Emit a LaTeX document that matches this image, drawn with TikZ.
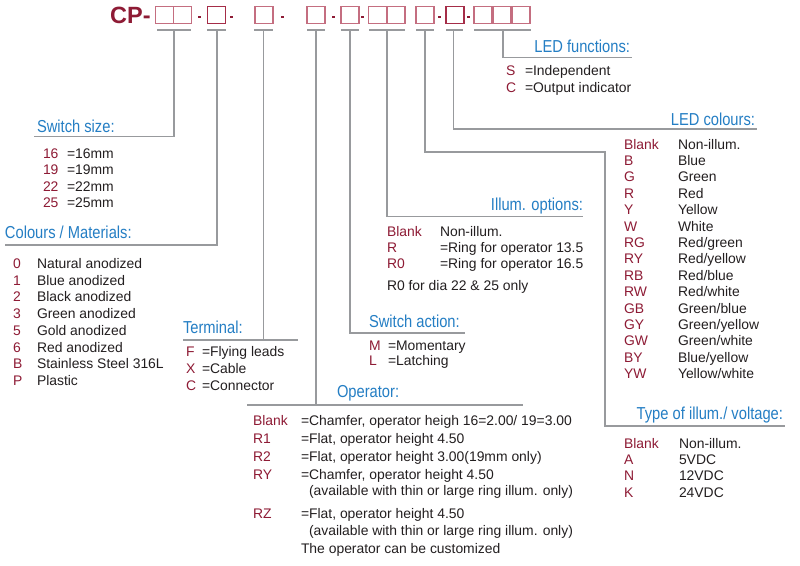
\documentclass[tikz,border=0pt]{standalone}
\usepackage{fontspec}
\setmainfont{Liberation Sans}
\newfontfamily\headfont[FakeStretch=0.85]{Liberation Sans}
\definecolor{keyred}{RGB}{142,27,53}
\definecolor{headblue}{RGB}{36,126,196}
\definecolor{txt}{RGB}{35,31,32}
\definecolor{linegray}{RGB}{152,154,157}
\definecolor{boxlight}{RGB}{196,110,128}
\definecolor{boxdark}{RGB}{165,45,72}
\begin{document}
\begin{tikzpicture}[x=1pt,y=-1pt,
  body/.style={font=\fontsize{13.9}{16}\selectfont, text=txt, anchor=base west, inner sep=0pt, outer sep=0pt},
  key/.style={body, text=keyred},
  head/.style={font=\headfont\fontsize{17.3}{20}\selectfont, text=headblue, anchor=base west, inner sep=0pt, outer sep=0pt},
  headr/.style={head, anchor=base east},
  conn/.style={draw=linegray, line width=1.5pt},
  bar/.style={draw=linegray, line width=2pt},
  digit/.style={draw=boxlight, line width=1.3pt, minimum width=18pt, minimum height=17pt, inner sep=0pt, outer sep=0pt, anchor=north west},
  digitd/.style={digit, draw=boxdark},
  dashmark/.style={fill=keyred, minimum width=3pt, minimum height=2pt, inner sep=0pt, outer sep=0pt}
]
\useasboundingbox (0,0) rectangle (800,565);
\fill[white] (0,0) rectangle (800,565);

% ---- code header ----
\node[anchor=base west, inner sep=0pt, text=keyred, font=\bfseries\fontsize{23.5}{26}\selectfont] (cp) at (110,23) {CP-};
\node[digit]  (d1a) at (155.5,6.5) {};
\node[digit]  (d1b) at (173.5,6.5) {};
\node[digitd] (d2)  at (207.5,6.5) {};
\node[digit]  (d3)  at (255,6.5) {};
\node[digit]  (d4)  at (307,6.5) {};
\node[digit]  (d5)  at (341,6.5) {};
\node[digit]  (d6a) at (368.5,6.5) {};
\node[digit]  (d6b) at (387,6.5) {};
\node[digit]  (d7)  at (416,6.5) {};
\node[digitd] (d8)  at (446,6.5) {};
\node[digit]  (d9a) at (474,6.5) {};
\node[digit]  (d9b) at (493,6.5) {};
\node[digit]  (d9c) at (512,6.5) {};
\node[dashmark] (m1) at (199,16.5) {};
\node[dashmark] (m2) at (231,16.5) {};
\node[dashmark] (m3) at (282,16.5) {};
\node[dashmark] (m4) at (333,16.5) {};
\node[dashmark] (m5) at (362.5,16.5) {};
\node[dashmark] (m6) at (439.5,16.5) {};
\node[dashmark] (m7) at (468,16.5) {};

% ---- bars under digits ----
\draw[bar] (157,30) -- (191,30);
\draw[bar] (207,30) -- (226,30);
\draw[bar] (254,30) -- (273,30);
\draw[bar] (307,30) -- (325,30);
\draw[bar] (341,30) -- (359,30);
\draw[bar] (369,30) -- (405,30);
\draw[bar] (416,30) -- (434,30);
\draw[bar] (446,30) -- (463,30);
\draw[bar] (474,30) -- (531,30);
\coordinate (v1) at (174,30);
\coordinate (v2) at (217,30);
\coordinate (v3) at (263.5,30);
\coordinate (v4) at (316,30);
\coordinate (v5) at (350,30);
\coordinate (v6) at (387,30);
\coordinate (v7) at (425,30);
\coordinate (v8) at (453.5,30);
\coordinate (v9) at (503,30);

% ---- underline end points ----
\coordinate (ss) at (34,136.5);
\coordinate (cm) at (5,245);
\coordinate (tl) at (183,340);
\coordinate (tr) at (298,340);
\coordinate (ol) at (247,405);
\coordinate (or) at (523,405);
\coordinate (sa) at (465,333);
\coordinate (io) at (583,216.5);
\coordinate (tk) at (605,152);
\coordinate (ty) at (785,426);
\coordinate (lc) at (757,129);
\coordinate (lf) at (632,57.5);

% ---- connectors ----
\draw[conn] (v1) |- (ss);
\draw[conn] (v2) |- (cm);
\draw[conn] (tl) -- (tr);
\draw[conn] (v3) -- (v3 |- tl);
\draw[conn] (ol) -- (or);
\draw[conn] (v4) -- (v4 |- ol);
\draw[conn] (v5) |- (sa);
\draw[conn] (v6) |- (io);
\draw[conn] (v7) |- (tk) |- (ty);
\draw[conn] (v8) |- (lc);
\draw[conn] (v9) |- (lf);

% ---- headings ----
\node[head]  (h-ss) at (37,132) {Switch size:};
\node[head]  (h-cm) at (5,238.5) {Colours / Materials:};
\node[head]  (h-te) at (183,333.5) {Terminal:};
\node[head]  (h-op) at (337,397.5) {Operator:};
\node[head]  (h-sa) at (369,327) {Switch action:};
\node[headr] (h-io) at (583,210) {Illum. options:};
\node[headr] (h-lc) at (755,125) {LED colours:};
\node[headr] (h-lf) at (630,52) {LED functions:};
\node[headr] (h-ty) at (783,419.5) {Type of illum./ voltage:};

% ---- LED functions ----
\node[key]  (lf1k) at (506,75.5) {S};
\node[body] (lf1v) at (525,75.5) {=Independent};
\node[key]  (lf2k) at (506,92) {C};
\node[body] (lf2v) at (525,92) {=Output indicator};

% ---- Switch size ----
\node[key]  (ss1k) at (43,158.3) {16};
\node[body] (ss1v) at (67,158.3) {=16mm};
\node[key]  (ss2k) at (43,174.7) {19};
\node[body] (ss2v) at (67,174.7) {=19mm};
\node[key]  (ss3k) at (43,191.1) {22};
\node[body] (ss3v) at (67,191.1) {=22mm};
\node[key]  (ss4k) at (43,207.5) {25};
\node[body] (ss4v) at (67,207.5) {=25mm};

% ---- Colours / Materials ----
\node[key]  (cm1k) at (13,268.3) {0};
\node[body] (cm1v) at (37,268.3) {Natural anodized};
\node[key]  (cm2k) at (13,285) {1};
\node[body] (cm2v) at (37,285) {Blue anodized};
\node[key]  (cm3k) at (13,301.8) {2};
\node[body] (cm3v) at (37,301.8) {Black anodized};
\node[key]  (cm4k) at (13,318.5) {3};
\node[body] (cm4v) at (37,318.5) {Green anodized};
\node[key]  (cm5k) at (13,335.3) {5};
\node[body] (cm5v) at (37,335.3) {Gold anodized};
\node[key]  (cm6k) at (13,352) {6};
\node[body] (cm6v) at (37,352) {Red anodized};
\node[key]  (cm7k) at (13,368.8) {B};
\node[body] (cm7v) at (37,368.8) {Stainless Steel 316L};
\node[key]  (cm8k) at (13,385.5) {P};
\node[body] (cm8v) at (37,385.5) {Plastic};

% ---- Terminal ----
\node[key]  (te1k) at (186,356) {F};
\node[body] (te1v) at (202,356) {=Flying leads};
\node[key]  (te2k) at (186,373.3) {X};
\node[body] (te2v) at (202,373.3) {=Cable};
\node[key]  (te3k) at (186,390.5) {C};
\node[body] (te3v) at (202,390.5) {=Connector};

% ---- Switch action ----
\node[key]  (sa1k) at (369,350.5) {M};
\node[body] (sa1v) at (388,350.5) {=Momentary};
\node[key]  (sa2k) at (369,365.7) {L};
\node[body] (sa2v) at (388,365.7) {=Latching};

% ---- Illum. options ----
\node[key]  (io1k) at (387,236.7) {Blank};
\node[body] (io1v) at (440,236.7) {Non-illum.};
\node[key]  (io2k) at (387,252.5) {R};
\node[body] (io2v) at (440,252.5) {=Ring for operator 13.5};
\node[key]  (io3k) at (387,268.5) {R0};
\node[body] (io3v) at (440,268.5) {=Ring for operator 16.5};
\node[body] (io4)  at (387,290) {R0 for dia 22 \& 25 only};

% ---- Operator ----
\node[key]  (op1k) at (253,425) {Blank};
\node[body] (op1v) at (301,425) {=Chamfer, operator heigh 16=2.00/ 19=3.00};
\node[key]  (op2k) at (253,443) {R1};
\node[body] (op2v) at (301,443) {=Flat, operator height 4.50};
\node[key]  (op3k) at (253,461) {R2};
\node[body] (op3v) at (301,461) {=Flat, operator height 3.00(19mm only)};
\node[key]  (op4k) at (253,479) {RY};
\node[body] (op4v) at (301,479) {=Chamfer, operator height 4.50};
\node[body] (op4n) at (309,495.5) {(available with thin or large ring illum. only)};
\node[key]  (op5k) at (253,518) {RZ};
\node[body] (op5v) at (301,518) {=Flat, operator height 4.50};
\node[body] (op5n) at (309,535) {(available with thin or large ring illum. only)};
\node[body] (op6)  at (301,553.5) {The operator can be customized};

% ---- LED colours ----
\foreach \k/\v [count=\i from 0] in {Blank/Non-illum., B/Blue, G/Green, R/Red, Y/Yellow, W/White, RG/Red\slash green, RY/Red\slash yellow, RB/Red\slash blue, RW/Red\slash white, GB/Green\slash blue, GY/Green\slash yellow, GW/Green\slash white, BY/Blue\slash yellow, YW/Yellow\slash white}{
  \node[key]  (lc\i k) at (624,149+16.4*\i) {\k};
  \node[body] (lc\i v) at (678,149+16.4*\i) {\v};
}

% ---- Type of illum./ voltage ----
\node[key]  (ty1k) at (624,448) {Blank};
\node[body] (ty1v) at (679,448) {Non-illum.};
\node[key]  (ty2k) at (624,464.3) {A};
\node[body] (ty2v) at (679,464.3) {5VDC};
\node[key]  (ty3k) at (624,480.7) {N};
\node[body] (ty3v) at (679,480.7) {12VDC};
\node[key]  (ty4k) at (624,497) {K};
\node[body] (ty4v) at (679,497) {24VDC};
\end{tikzpicture}
\end{document}
